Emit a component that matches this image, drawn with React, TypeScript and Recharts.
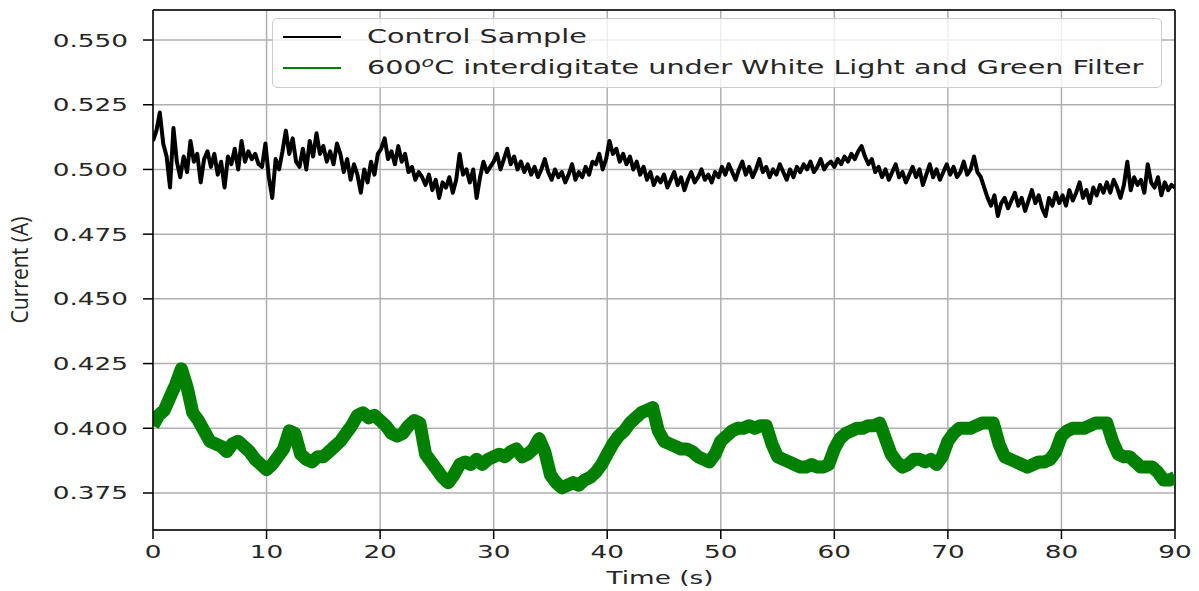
import React from 'react';
import { LineChart, Line, XAxis, YAxis, CartesianGrid, ReferenceLine } from 'recharts';

const xTicks = [0, 10, 20, 30, 40, 50, 60, 70, 80, 90];
const yTicks = [0.375, 0.4, 0.425, 0.45, 0.475, 0.5, 0.525, 0.55];
const yDomain = [0.3607, 0.5616];

const seriesNames = [
  'Control Sample',
  'interdigitate under White Light and Green Filter',
];

const controlStep = 0.3;
const controlCurrent = [
  0.511, 0.515, 0.522, 0.510, 0.505, 0.493, 0.516, 0.503, 0.497, 0.505,
  0.499, 0.511, 0.503, 0.506, 0.495, 0.504, 0.507, 0.501, 0.506, 0.498,
  0.503, 0.493, 0.505, 0.502, 0.508, 0.500, 0.511, 0.503, 0.507, 0.504,
  0.506, 0.502, 0.501, 0.510, 0.497, 0.489, 0.504, 0.500, 0.507, 0.515,
  0.506, 0.512, 0.503, 0.501, 0.508, 0.500, 0.511, 0.505, 0.514, 0.506,
  0.509, 0.503, 0.507, 0.502, 0.510, 0.506, 0.499, 0.504, 0.496, 0.502,
  0.498, 0.491, 0.500, 0.495, 0.503, 0.498, 0.506, 0.508, 0.512, 0.504,
  0.507, 0.502, 0.509, 0.503, 0.506, 0.499, 0.501, 0.496, 0.499, 0.497,
  0.494, 0.498, 0.492, 0.496, 0.489, 0.495, 0.493, 0.497, 0.491, 0.496,
  0.506, 0.498, 0.500, 0.495, 0.500, 0.489, 0.497, 0.503, 0.499, 0.501,
  0.503, 0.506, 0.500, 0.504, 0.508, 0.502, 0.505, 0.500, 0.503, 0.499,
  0.502, 0.498, 0.501, 0.497, 0.500, 0.504, 0.499, 0.496, 0.500, 0.497,
  0.499, 0.495, 0.498, 0.502, 0.496, 0.499, 0.497, 0.501, 0.498, 0.503,
  0.502, 0.506, 0.500, 0.504, 0.511, 0.506, 0.508, 0.503, 0.506, 0.502,
  0.505, 0.500, 0.503, 0.498, 0.501, 0.496, 0.499, 0.494, 0.497, 0.495,
  0.498, 0.493, 0.496, 0.499, 0.494, 0.497, 0.492, 0.496, 0.499, 0.495,
  0.497, 0.500, 0.496, 0.498, 0.495, 0.499, 0.497, 0.501, 0.498, 0.502,
  0.499, 0.496, 0.500, 0.503, 0.498, 0.501, 0.497, 0.500, 0.504, 0.499,
  0.501, 0.497, 0.500, 0.498, 0.502, 0.499, 0.496, 0.500, 0.497, 0.501,
  0.499, 0.502, 0.500, 0.503, 0.499, 0.501, 0.504, 0.500, 0.502, 0.503,
  0.501, 0.504, 0.502, 0.505, 0.503, 0.506, 0.504, 0.507, 0.509, 0.505,
  0.502, 0.504, 0.499, 0.501, 0.497, 0.500, 0.496, 0.499, 0.502, 0.497,
  0.499, 0.495, 0.498, 0.501, 0.497, 0.500, 0.494, 0.498, 0.502, 0.497,
  0.500, 0.496, 0.499, 0.502, 0.498, 0.501, 0.497, 0.499, 0.503, 0.498,
  0.500, 0.505, 0.499, 0.497, 0.493, 0.489, 0.486, 0.490, 0.482, 0.487,
  0.489, 0.485, 0.488, 0.491, 0.486, 0.489, 0.484, 0.488, 0.492, 0.487,
  0.490, 0.485, 0.482, 0.489, 0.486, 0.491, 0.487, 0.490, 0.486, 0.492,
  0.488, 0.491, 0.495, 0.489, 0.492, 0.487, 0.493, 0.490, 0.494, 0.491,
  0.495, 0.491, 0.496, 0.493, 0.489, 0.494, 0.503, 0.492, 0.497, 0.494,
  0.496, 0.491, 0.502, 0.495, 0.493, 0.497, 0.490, 0.495, 0.492, 0.494,
  0.493,
];

const greenStep = 0.5;
const greenCurrent = [
  0.401, 0.405, 0.407, 0.412, 0.417, 0.423, 0.416, 0.406, 0.403, 0.399,
  0.395, 0.394, 0.393, 0.391, 0.394, 0.395, 0.393, 0.391, 0.388, 0.386,
  0.384, 0.386, 0.389, 0.392, 0.399, 0.398, 0.390, 0.388, 0.387, 0.389,
  0.389, 0.391, 0.393, 0.395, 0.398, 0.401, 0.405, 0.406, 0.404, 0.405,
  0.403, 0.401, 0.398, 0.397, 0.398, 0.401, 0.403, 0.402, 0.390, 0.387,
  0.384, 0.381, 0.379, 0.382, 0.386, 0.387, 0.386, 0.388, 0.386, 0.388,
  0.389, 0.390, 0.389, 0.391, 0.392, 0.389, 0.390, 0.392, 0.396, 0.391,
  0.382, 0.379, 0.377, 0.378, 0.379, 0.378, 0.380, 0.381, 0.383, 0.386,
  0.390, 0.394, 0.397, 0.399, 0.402, 0.404, 0.406, 0.407, 0.408, 0.399,
  0.395, 0.394, 0.393, 0.392, 0.392, 0.391, 0.389, 0.388, 0.387, 0.390,
  0.395, 0.397, 0.399, 0.400, 0.400, 0.401, 0.400, 0.401, 0.401, 0.394,
  0.389, 0.388, 0.387, 0.386, 0.385, 0.385, 0.386, 0.385, 0.385, 0.386,
  0.392, 0.396, 0.398, 0.399, 0.400, 0.400, 0.401, 0.401, 0.402, 0.396,
  0.390, 0.387, 0.385, 0.386, 0.388, 0.388, 0.387, 0.388, 0.386, 0.389,
  0.395, 0.398, 0.400, 0.400, 0.400, 0.401, 0.402, 0.402, 0.402, 0.394,
  0.389, 0.388, 0.387, 0.386, 0.385, 0.386, 0.387, 0.387, 0.388, 0.391,
  0.397, 0.399, 0.400, 0.400, 0.400, 0.401, 0.402, 0.402, 0.402, 0.395,
  0.390, 0.389, 0.389, 0.387, 0.385, 0.385, 0.385, 0.383, 0.380, 0.380,
  0.381,
];

const controlData = controlCurrent.map((v, i) => ({ t: +(i * controlStep).toFixed(2), v }));
const greenData = greenCurrent.map((v, i) => ({ t: +(i * greenStep).toFixed(2), v }));

const SX = 1.46;
const FONT = 'DejaVu Sans';
const TXT = '#262626';

function YTick(props: any) {
  const { x, y, payload } = props;
  return (
    <text
      transform={`translate(${x},${y}) scale(${SX},1)`}
      textAnchor="end"
      dy="0.36em"
      fontSize={18}
      fontFamily={FONT}
      fill={TXT}
    >
      {Number(payload.value).toFixed(3)}
    </text>
  );
}

function XTick(props: any) {
  const { x, y, payload } = props;
  return (
    <text
      transform={`translate(${x},${y}) scale(${SX},1)`}
      textAnchor="middle"
      dy="0.71em"
      fontSize={18}
      fontFamily={FONT}
      fill={TXT}
    >
      {payload.value}
    </text>
  );
}

export default function App() {
  return (
    <div style={{ position: 'absolute', left: 0, top: 0, width: 1199, height: 591, background: '#fff' }}>
      <LineChart width={1199} height={591} margin={{ top: 10, right: 24, bottom: 21, left: 0 }}>
        <CartesianGrid stroke="#b0b0b0" strokeWidth={1.5} />
        <XAxis
          dataKey="t"
          type="number"
          domain={[0, 90]}
          ticks={xTicks}
          allowDataOverflow
          height={40}
          tickSize={9}
          tickMargin={6}
          tick={<XTick />}
          axisLine={{ stroke: '#000', strokeWidth: 1.5 }}
          tickLine={{ stroke: '#000', strokeWidth: 1.5 }}
          label={{
            content: () => (
              <text
                transform={`translate(660,584) scale(${SX},1)`}
                textAnchor="middle"
                fontSize={18}
                fontFamily={FONT}
                fill={TXT}
              >
                Time (s)
              </text>
            ),
          }}
        />
        <YAxis
          type="number"
          domain={yDomain}
          ticks={yTicks}
          allowDataOverflow
          width={153}
          tickSize={10}
          tickMargin={15}
          tick={<YTick />}
          axisLine={{ stroke: '#000', strokeWidth: 1.5 }}
          tickLine={{ stroke: '#000', strokeWidth: 1.5 }}
          label={{
            content: () => (
              <text
                transform="translate(28,270) rotate(-90) scale(0.88,1)"
                textAnchor="middle"
                fontSize={24}
                fontFamily="Open Sans"
                fill={TXT}
              >
                Current (A)
              </text>
            ),
          }}
        />
        <ReferenceLine y={yDomain[1]} stroke="#000" strokeWidth={1.5} />
        <ReferenceLine x={90} stroke="#000" strokeWidth={1.5} />
        <Line
          data={controlData}
          dataKey="v"
          type="linear"
          stroke="#000000"
          strokeWidth={4}
          strokeLinejoin="round"
          dot={false}
          isAnimationActive={false}
        />
        <Line
          data={greenData}
          dataKey="v"
          type="linear"
          stroke="#008000"
          strokeWidth={13}
          strokeLinejoin="round"
          dot={false}
          isAnimationActive={false}
        />
      </LineChart>
      <div
        style={{
          position: 'absolute',
          left: 272,
          top: 18,
          width: 890,
          height: 70,
          boxSizing: 'border-box',
          background: 'rgba(255,255,255,0.8)',
          border: '1px solid #cccccc',
          borderRadius: 5,
          fontFamily: FONT,
          fontSize: 19.6,
          color: TXT,
        }}
      >
        <div style={{ position: 'absolute', left: 10, top: 17, width: 58, height: 2, background: '#000' }} />
        <div
          style={{
            position: 'absolute',
            left: 94,
            top: 6,
            lineHeight: '24px',
            whiteSpace: 'nowrap',
            transform: `scaleX(${SX})`,
            transformOrigin: 'left center',
          }}
        >
          {seriesNames[0]}
        </div>
        <div style={{ position: 'absolute', left: 10, top: 48, width: 58, height: 2, background: '#008000' }} />
        <div
          style={{
            position: 'absolute',
            left: 94,
            top: 37,
            lineHeight: '24px',
            whiteSpace: 'nowrap',
            transform: `scaleX(${SX})`,
            transformOrigin: 'left center',
          }}
        >
          600<sup style={{ fontStyle: 'italic', fontSize: 14, verticalAlign: 7, lineHeight: 0 }}>o</sup>C {seriesNames[1]}
        </div>
      </div>
    </div>
  );
}
